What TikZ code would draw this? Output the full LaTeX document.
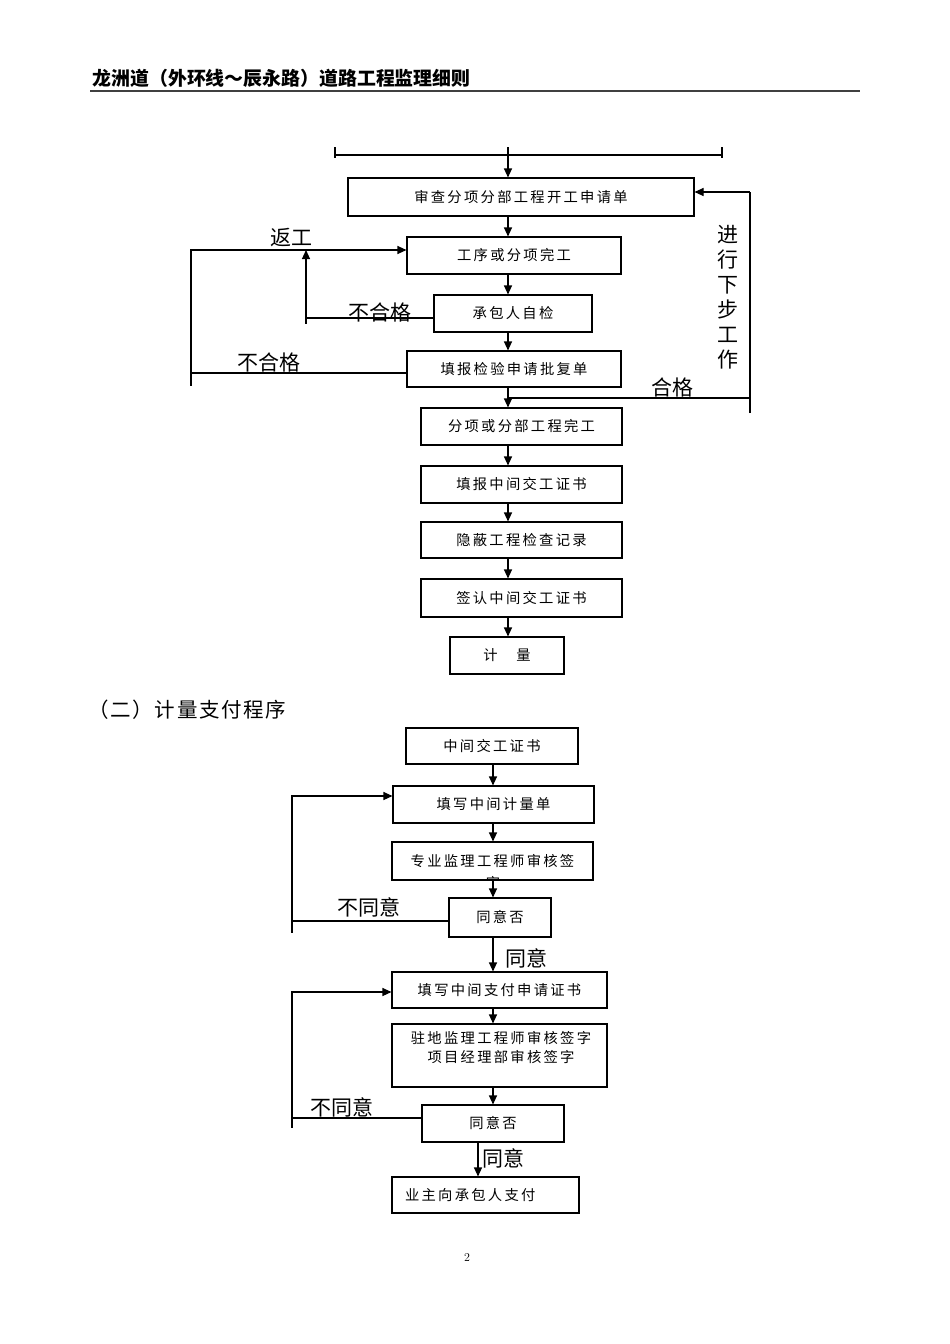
\documentclass[tikz,border=0pt]{standalone}
\usepackage{fontspec}
\newfontfamily\cjk{Noto Sans CJK SC}
\newfontfamily\cjkbox[LetterSpace=16]{Noto Sans CJK SC}
\newfontfamily\cjkhead[LetterSpace=8]{Noto Sans CJK SC}
\usetikzlibrary{arrows.meta,positioning}

\begin{document}
\begin{tikzpicture}[
  x=1pt, y=-1pt,
  line width=1.1pt,
  >={Triangle[length=9pt,width=8pt]},
  box/.style={draw, inner sep=0pt, align=center, font=\cjkbox\fontsize{14.3}{19}\selectfont},
  lbl/.style={inner sep=0pt, font=\cjk\fontsize{21}{25}\selectfont},
]
\fill[white] (0,0) rectangle (950,1344);
\useasboundingbox (0,0) rectangle (950,1344);

% page header
\node[anchor=west, inner sep=0pt, font=\cjk\bfseries\fontsize{18.9}{21}\selectfont] (biaoti) at (92,78) {龙洲道（外环线～辰永路）道路工程监理细则};
\draw[line width=2pt, black!75] (90,91) -- (860,91);

% (一) flow
\coordinate (c1) at (508,0);
\draw (335,147) -- (335,158);
\draw (722,147) -- (722,158);
\draw (335,155) -- (722,155);

\node[box, minimum width=346pt, minimum height=38pt] (kaigong) at (521,197) {审查分项分部工程开工申请单};
\node[box, minimum width=214pt, minimum height=37pt] (gongxu) at (514,255.5) {工序或分项完工};
\node[box, minimum width=158pt, minimum height=37pt] (zijian) at (513,313.5) {承包人自检};
\node[box, minimum width=214pt, minimum height=36pt] (baofu) at (514,369) {填报检验申请批复单};
\node[box, minimum width=201pt, minimum height=37pt] (wangong) at (521.5,426.5) {分项或分部工程完工};
\node[box, minimum width=201pt, minimum height=37pt] (jiaogong) at (521.5,484.5) {填报中间交工证书};
\node[box, minimum width=201pt, minimum height=36pt] (yinbi) at (521.5,540) {隐蔽工程检查记录};
\node[box, minimum width=201pt, minimum height=38pt] (qianren) at (521.5,598) {签认中间交工证书};
\node[box, minimum width=114pt, minimum height=37pt] (jiliang) at (507,655.5) {计　量};

\draw[->] (508,147) -- (kaigong.north -| c1);
\draw[->] (kaigong.south -| c1) -- (gongxu.north -| c1);
\draw[->] (gongxu.south -| c1) -- (zijian.north -| c1);
\draw[->] (zijian.south -| c1) -- (baofu.north -| c1);
\draw[->] (baofu.south -| c1) -- (wangong.north -| c1);
\draw[->] (wangong.south -| c1) -- (jiaogong.north -| c1);
\draw[->] (jiaogong.south -| c1) -- (yinbi.north -| c1);
\draw[->] (yinbi.south -| c1) -- (qianren.north -| c1);
\draw[->] (qianren.south -| c1) -- (jiliang.north -| c1);

% rework loops
\coordinate (fgA) at (191,373);
\coordinate (fgB) at (191,250);
\draw[->] (fgA -| baofu.west) -- (fgA) -- (fgB) -- (fgB -| gongxu.west);
\draw (fgA) -- ++(0,13);
\coordinate (zjA) at (306,318);
\draw (zjA -| zijian.west) -- (zjA) -- ++(0,6);
\draw[->] (zjA) -- (zjA |- fgB);

% pass loop
\coordinate (hg) at (508,398);
\coordinate (hgR) at (750,398);
\coordinate (jx) at (750,192);
\draw (hg) -- (hgR);
\draw (750,413) -- (jx);
\draw[->] (jx) -- (jx -| kaigong.east);

\node[lbl] (fangong) at (291,238) {返工};
\node[lbl] (buhege1) at (380,312) {不合格};
\node[lbl] (buhege2) at (269,362) {不合格};
\node[lbl] (hege) at (672,387) {合格};
\node[lbl, align=center] (xiabu) at (728,297.5) {进\\行\\下\\步\\工\\作};

% (二) flow
\node[anchor=west, inner sep=0pt, font=\cjkhead\fontsize{20.5}{24}\selectfont] (biaoti2) at (88,710) {（二）计量支付程序};

\coordinate (c2) at (493,0);
\coordinate (c3) at (478,0);
\node[box, minimum width=172pt, minimum height=36pt] (zhongjian) at (492,746) {中间交工证书};
\node[box, minimum width=201pt, minimum height=37pt] (jiliangdan) at (493.5,804.5) {填写中间计量单};
\node[box, minimum width=201pt, minimum height=38pt] (zhuanye) at (492.5,861) {专业监理工程师审核签};
\begin{scope}
  \clip (zhuanye.south west) rectangle (zhuanye.north east);
  \node[inner sep=0pt, font=\cjk\fontsize{14.3}{19}\selectfont] (zhuanyeZi) at (493,882.5) {字};
\end{scope}
\node[box, minimum width=102pt, minimum height=39pt] (tongyi1) at (500,917.5) {同意否};
\node[box, minimum width=215pt, minimum height=36pt] (zhifu) at (499.5,990) {填写中间支付申请证书};
\node[box, minimum width=215pt, minimum height=63pt] (zhudi) at (499.5,1055.5) {};
\node[inner sep=0pt, align=center, font=\cjkbox\fontsize{14.3}{19}\selectfont] (zhudiTxt) at (501,1047.5) {驻地监理工程师审核签字\\项目经理部审核签字};
\node[box, minimum width=142pt, minimum height=37pt] (tongyi2) at (493,1123.5) {同意否};
\node[box, minimum height=36pt, inner xsep=13pt, text width=161pt, align=left] (fukuan) at (485.5,1195) {业主向承包人支付};

\draw[->] (zhongjian.south -| c2) -- (jiliangdan.north -| c2);
\draw[->] (jiliangdan.south -| c2) -- (zhuanye.north -| c2);
\draw[->] (zhuanye.south -| c2) -- (tongyi1.north -| c2);
\draw[->] (tongyi1.south -| c2) -- (zhifu.north -| c2);
\draw[->] (zhifu.south -| c2) -- (zhudi.north -| c2);
\draw[->] (zhudi.south -| c2) -- (tongyi2.north -| c2);
\draw[->] (tongyi2.south -| c3) -- (fukuan.north -| c3);

\coordinate (bt1) at (292,921);
\coordinate (bt1t) at (292,796);
\draw[->] (bt1 -| tongyi1.west) -- (bt1) -- (bt1t) -- (bt1t -| jiliangdan.west);
\draw (bt1) -- ++(0,12);
\coordinate (bt2) at (292,1118);
\coordinate (bt2t) at (292,992);
\draw[->] (bt2 -| tongyi2.west) -- (bt2) -- (bt2t) -- (bt2t -| zhifu.west);
\draw (bt2) -- ++(0,10);

\node[lbl] (butongyi1) at (369,907) {不同意};
\node[lbl] (tongyiA) at (526,958) {同意};
\node[lbl] (butongyi2) at (342,1107) {不同意};
\node[lbl] (tongyiB) at (503,1158) {同意};

\node[inner sep=0pt, font=\fontsize{12}{14}\selectfont] (yema) at (467,1257) {2};
\end{tikzpicture}
\end{document}
